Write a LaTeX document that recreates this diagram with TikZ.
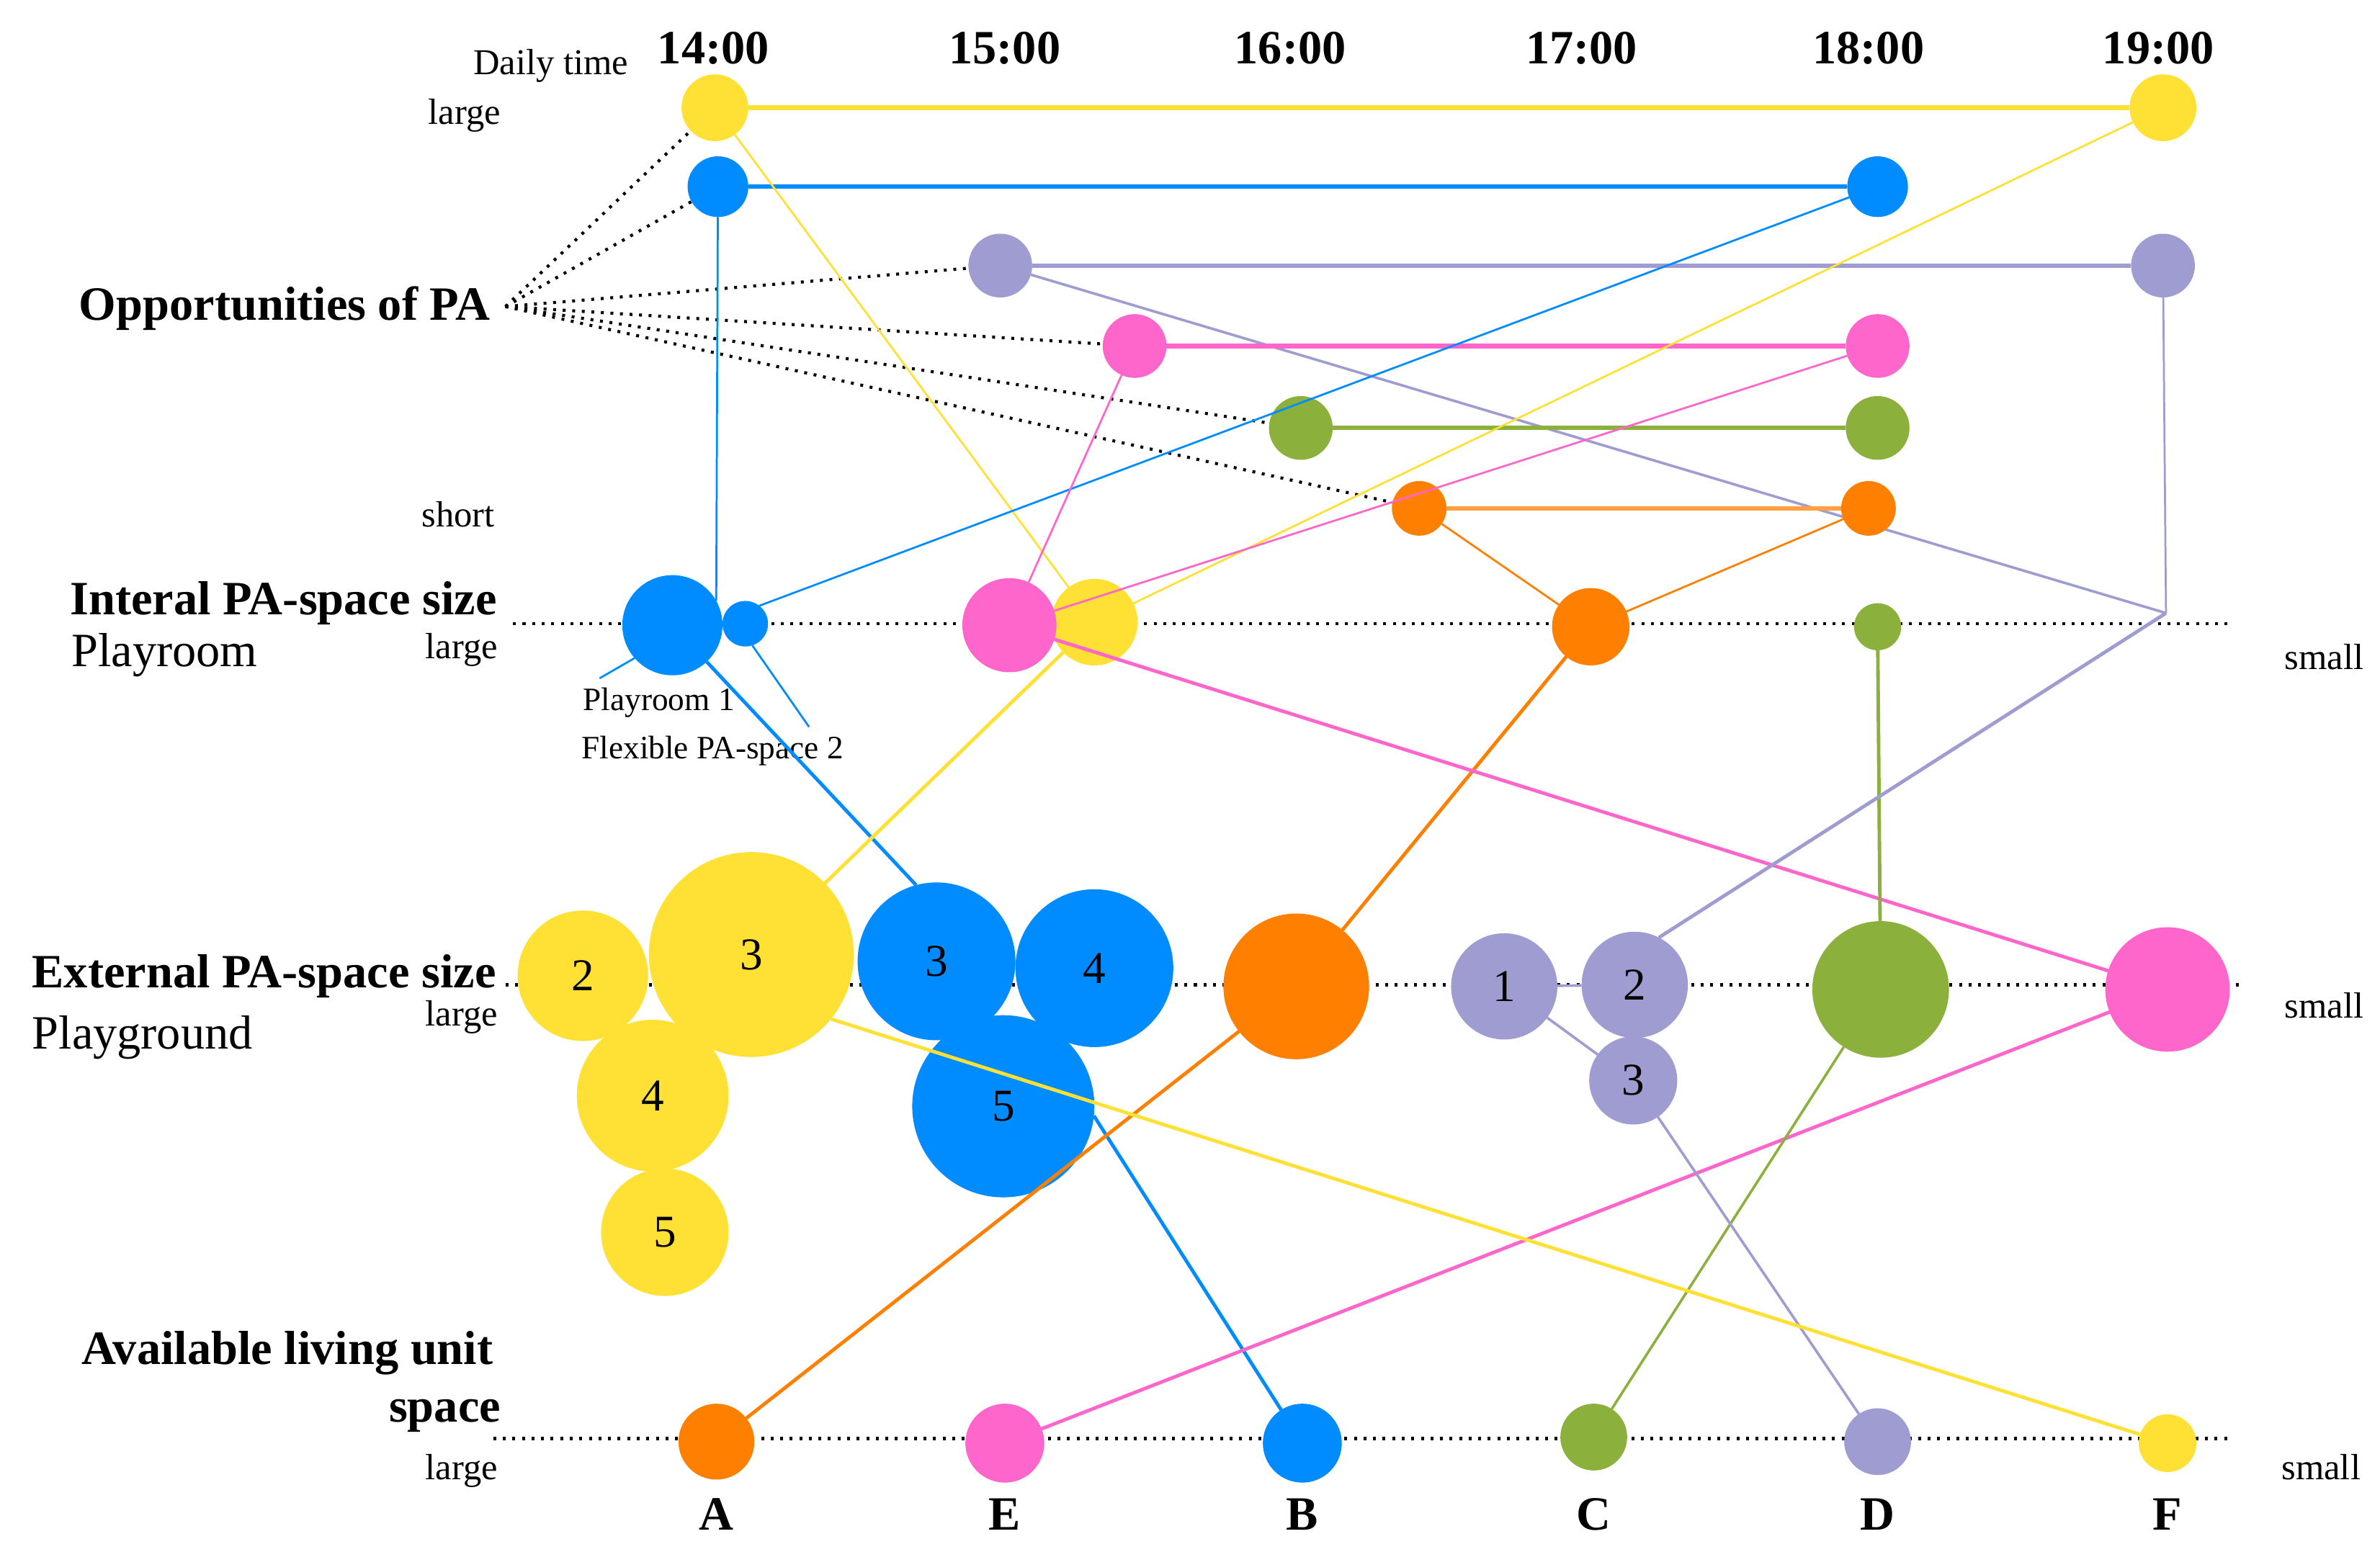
\documentclass[tikz,border=0pt]{standalone}
\usepackage{fontspec}
\setmainfont{Liberation Serif}
\definecolor{cY}{RGB}{255,225,53}
\definecolor{cB}{RGB}{0,140,255}
\definecolor{cP}{RGB}{158,156,208}
\definecolor{cK}{RGB}{255,102,204}
\definecolor{cG}{RGB}{139,176,60}
\definecolor{cO}{RGB}{255,128,0}
\begin{document}
\begin{tikzpicture}[x=1pt,y=-1pt,
  dot/.style={circle, inner sep=0pt, outer sep=0pt, font=\fontsize{30}{34}\selectfont},
  dotline/.style={line width=2pt, dash pattern=on 1.9pt off 4.4pt, line cap=butt, black},
  lnH/.style={line width=3pt},
  lnA/.style={line width=1.3pt},
  lnB/.style={line width=1.7pt},
  lnC/.style={line width=2.3pt},
  bl/.style={inner sep=0pt, font=\fontsize{31.5}{36}\selectfont\bfseries},
  rl/.style={inner sep=0pt, font=\fontsize{31.5}{36}\selectfont},
  sl/.style={inner sep=0pt, font=\fontsize{24}{28}\selectfont},
  tl/.style={inner sep=0pt, font=\fontsize{21.5}{25}\selectfont}]
\useasboundingbox[fill=white] (0,0) rectangle (1568,1026);

% axis coordinates
\coordinate (opp) at (333,202);
\coordinate (pc) at (1427,404);
\coordinate (pr1) at (395,447);
\coordinate (fx) at (533,479);
\coordinate (ax1a) at (338,411);
\coordinate (ax1b) at (1470,411);
\coordinate (ax2a) at (333,649);
\coordinate (ax2b) at (1475,649);
\coordinate (ax3a) at (325,948);
\coordinate (ax3b) at (1470,948);

\draw[dotline] (ax1a) -- (ax1b);
\draw[dotline] (ax2a) -- (ax2b);
\draw[dotline] (ax3a) -- (ax3b);

% top circles
\node[dot,fill=cY,minimum size=44pt] (y14) at (471,71) {};
\node[dot,fill=cY,minimum size=44pt] (y19) at (1425,71) {};
\node[dot,fill=cB,minimum size=40pt] (b14) at (473,123) {};
\node[dot,fill=cB,minimum size=40pt] (b18) at (1237,123) {};
\node[dot,fill=cP,minimum size=42pt] (p15) at (659,175) {};
\node[dot,fill=cP,minimum size=42pt] (p19) at (1425,175) {};
\node[dot,fill=cK,minimum size=42pt] (k15) at (747.5,228) {};
\node[dot,fill=cK,minimum size=42pt] (k18) at (1237,228) {};
\node[dot,fill=cG,minimum size=42pt] (g16) at (857,282) {};
\node[dot,fill=cG,minimum size=42pt] (g18) at (1237,282) {};

\draw[cP,lnB] (p15) -- (pc);

\node[dot,fill=cO,minimum size=36pt] (o16) at (935,335) {};
\node[dot,fill=cO,minimum size=36pt] (o18) at (1231,335) {};

% playroom row
\node[dot,fill=cB,minimum size=66pt] (bb) at (443,412) {};
\node[dot,fill=cB,minimum size=30pt] (sb) at (491,411) {};
\node[dot,fill=cY,minimum size=57pt] (yp) at (721,410) {};
\node[dot,fill=cK,minimum size=62pt] (kp) at (665,412) {};
\node[dot,fill=cO,minimum size=51pt] (op) at (1048,413) {};
\node[dot,fill=cG,minimum size=31pt] (gp) at (1237,413) {};

% external row
\node[dot,fill=cY,minimum size=86pt] (ye2) at (384,643) {2};
\node[dot,fill=cY,minimum size=135pt] (ye3) at (495,629) {3};
\node[dot,fill=cY,minimum size=100pt] (ye4) at (430,722) {4};
\node[dot,fill=cY,minimum size=84pt] (ye5) at (438,812) {5};
\node[dot,fill=cB,minimum size=104pt] (be3) at (617,633.5) {3};
\node[dot,fill=cB,minimum size=104pt] (be4) at (721,638) {4};
\node[dot,fill=cB,minimum size=120pt] (be5) at (661,729) {5};
\node[dot,fill=cO,minimum size=96pt] (oe) at (854,650) {};
\node[dot,fill=cP,minimum size=70pt] (pe1) at (991,650) {1};
\node[dot,fill=cP,minimum size=70pt] (pe2) at (1077,649) {2};
\node[dot,fill=cP,minimum size=58pt] (pe3) at (1076,712) {3};
\node[dot,fill=cG,minimum size=90pt] (ge) at (1239,652) {};
\node[dot,fill=cK,minimum size=82pt] (ke) at (1428,652) {};

% bottom row
\node[dot,fill=cO,minimum size=50pt] (oA) at (472,950) {};
\node[dot,fill=cK,minimum size=52pt] (kE) at (662,951) {};
\node[dot,fill=cB,minimum size=52pt] (bB) at (858,951) {};
\node[dot,fill=cG,minimum size=44pt] (gC) at (1050,947) {};
\node[dot,fill=cP,minimum size=44pt] (pD) at (1237,950) {};
\node[dot,fill=cY,minimum size=38pt] (yF) at (1428,951) {};

% texts
\node[bl,anchor=base] (t14) at (470,42) {14:00};
\node[bl,anchor=base] (t15) at (662,42) {15:00};
\node[bl,anchor=base] (t16) at (850,42) {16:00};
\node[bl,anchor=base] (t17) at (1042,42) {17:00};
\node[bl,anchor=base] (t18) at (1231,42) {18:00};
\node[bl,anchor=base] (t19) at (1422,42) {19:00};
\node[sl,anchor=base east] (tdaily) at (414,49) {Daily time};
\node[sl,anchor=base east] (tlarge1) at (330,82) {large};
\node[bl,anchor=base west] (topp) at (52,211) {Opportunities of PA};
\node[sl,anchor=base east] (tshort) at (326,347) {short};
\node[bl,anchor=base west] (tint) at (46,405) {Interal PA-space size};
\node[rl,anchor=base west] (tplayroom) at (47,439) {Playroom};
\node[sl,anchor=base east] (tlarge2) at (328,434) {large};
\node[sl,anchor=base west] (tsmall2) at (1505,441) {small};
\node[tl,anchor=base west] (tpr1) at (384,468) {Playroom 1};
\node[tl,anchor=base west] (tflex) at (383,500) {Flexible PA-space 2};
\node[bl,anchor=base west] (text) at (21,651) {External PA-space size};
\node[rl,anchor=base west] (tplayg) at (21,691) {Playground};
\node[sl,anchor=base east] (tlarge3) at (328,676) {large};
\node[sl,anchor=base west] (tsmall3) at (1505,671) {small};
\node[bl,anchor=base east] (tavail) at (325,899) {Available living unit};
\node[bl,anchor=base east] (tspace) at (330,937) {space};
\node[sl,anchor=base east] (tlarge4) at (328,975) {large};
\node[sl,anchor=base west] (tsmall4) at (1503,975) {small};
\node[bl,anchor=base] (tA) at (472,1008) {A};
\node[bl,anchor=base] (tE) at (662,1008) {E};
\node[bl,anchor=base] (tB) at (858,1008) {B};
\node[bl,anchor=base] (tC) at (1050,1008) {C};
\node[bl,anchor=base] (tD) at (1237,1008) {D};
\node[bl,anchor=base] (tF) at (1428,1008) {F};

% dotted opportunity lines
\draw[dotline] (opp) -- (y14);
\draw[dotline] (opp) -- (b14);
\draw[dotline] (opp) -- (p15);
\draw[dotline] (opp) -- (k15);
\draw[dotline] (opp) -- (g16);
\draw[dotline] (opp) -- (o16);

% top horizontal lines
\draw[cY,lnH] (y14) -- (y19);
\draw[cB,lnH] (b14) -- (b18);
\draw[cP,lnH] (p15) -- (p19);
\draw[cK,lnH] (k15) -- (k18);
\draw[cG,lnH] (g16) -- (g18);
\draw[cO!75,lnH] (o16) -- (o18);

% top to playroom
\draw[cY,lnA] (y14) -- (yp);
\draw[cY,lnA] (y19) -- (yp);
\draw[cB,lnA] (b14) -- (bb.29);
\draw[cB,lnA] (b18) -- (sb.52);
\draw[cP,lnA] (p19) -- (pc);
\draw[cK,lnA] (k15) -- (kp);
\draw[cK,lnA] (k18) -- (kp);
\draw[cO,lnA] (o16) -- (op);
\draw[cO,lnA] (o18) -- (op);

% leaders
\draw[cB,lnA] (pr1) -- (bb.-139);
\draw[cB,lnA] (sb.-72) -- (fx);

% playroom to external
\draw[cB,lnC] (bb) -- (be3.105);
\draw[cY,lnC] (yp) -- (ye3);
\draw[cO,lnC] (op) -- (oe);
\draw[cK,lnC] (kp) -- (ke);
\draw[cG,lnC] (gp) -- (ge);
\draw[cP,lnC] (pc) -- (pe2.63);

% external to bottom
\draw[cB,lnC] (be5.-6) -- (bB);
\draw[cO,lnC] (oe) -- (oA);
\draw[cK,lnC] (ke) -- (kE);
\draw[cG,lnB] (ge) -- (gC);
\draw[cP,lnB] (pe3) -- (pD);
\draw[cY,lnC] (ye3.-39) -- (yF);
\draw[cP,lnB] (pe1) -- (pe3);
\draw[cP,lnB] (pe1) -- (pe2);
\end{tikzpicture}
\end{document}
